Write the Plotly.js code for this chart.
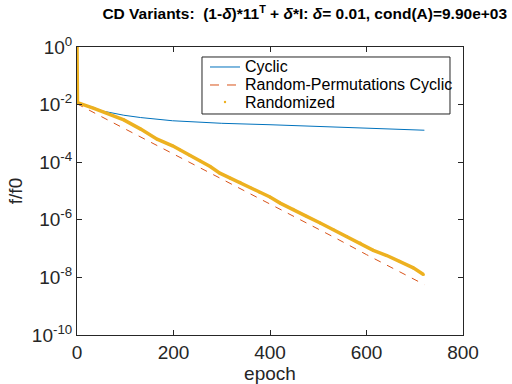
<!DOCTYPE html>
<html>
<head>
<meta charset="utf-8">
<script src="https://cdn.plot.ly/plotly-3.0.1.min.js"></script>
<style>
  html, body { margin: 0; padding: 0; background: #fff; }
  #plotDiv { width: 512px; height: 384px; }
</style>
</head>
<body>
<div id="plotDiv"></div>
<script>
// values
const cyclicEpochs = [0, 1, 35, 52, 97, 132, 198, 300, 400, 500, 600, 720];
const cyclicValues = [1, 1.2e-2, 7.9e-3, 6.03e-3, 4.27e-3, 3.55e-3, 2.75e-3, 2.24e-3, 2.0e-3, 1.74e-3, 1.51e-3, 1.29e-3];

const permEpochs = [0, 1, 60, 120, 180, 240, 300, 360, 420, 480, 540, 600, 660, 720];
const permValues = [1, 1.05e-2, 3.16e-3, 9.55e-4, 2.88e-4, 8.51e-5, 2.57e-5, 7.76e-6, 2.34e-6, 7.08e-7, 2.14e-7, 6.17e-8, 1.86e-8, 5.62e-9];

const randEpochs = [0, 1, 35, 63, 97, 132, 166, 198, 213, 234, 255, 276, 296, 317, 338, 359, 379, 400,
    421, 448, 476, 504, 531, 559, 587, 614, 642, 669, 697, 718];
const randValues = [1, 1.17e-2, 7.41e-3, 5.01e-3, 2.95e-3, 1.41e-3, 6.31e-4, 3.72e-4, 2.69e-4, 1.70e-4,
    1.12e-4, 7.08e-5, 4.17e-5, 2.82e-5, 2.00e-5, 1.32e-5, 8.91e-6, 6.17e-6, 3.80e-6, 2.34e-6, 1.32e-6,
    7.76e-7, 4.57e-7, 2.63e-7, 1.58e-7, 8.71e-8, 5.75e-8, 3.63e-8, 2.14e-8, 1.26e-8];

const xTicks = [0, 200, 400, 600, 800];
const yTicks = [1e-10, 1e-8, 1e-6, 1e-4, 1e-2, 1];
const yTickText = ['10<sup>-10</sup>', '10<sup>-8</sup>', '10<sup>-6</sup>', '10<sup>-4</sup>', '10<sup>-2</sup>', '10<sup>0</sup>'];

const seriesNames = ['Cyclic', 'Random-Permutations Cyclic', 'Randomized'];
const seriesColors = ['#0072BD', '#D95319', '#EDB120'];

const fontFamily = 'Liberation Sans, Arial, Helvetica, sans-serif';
const axisColor = '#262626';

const traceCyclic = {
    x: cyclicEpochs,
    y: cyclicValues,
    mode: 'lines',
    name: seriesNames[0],
    line: {color: seriesColors[0], width: 1}
};
const tracePerm = {
    x: permEpochs,
    y: permValues,
    mode: 'lines',
    name: seriesNames[1],
    line: {color: seriesColors[1], width: 1, dash: '7px,7px'}
};
const traceRand = {
    x: randEpochs,
    y: randValues,
    mode: 'lines+markers',
    name: seriesNames[2],
    line: {color: seriesColors[2], width: 3.5},
    marker: {color: seriesColors[2], size: 3}
};

const axisCommon = {
    showline: true,
    linecolor: axisColor,
    linewidth: 1,
    mirror: 'ticks',
    ticks: 'inside',
    ticklen: 5,
    tickcolor: axisColor,
    showgrid: false,
    zeroline: false,
    tickfont: {family: fontFamily, size: 19, color: axisColor}
};

// legend drawn by hand so that its rows are as tight as in the reference
const legX0 = 0.3238, legX1 = 0.9663, legY0 = 0.7674, legY1 = 0.9653;
const rowY = [0.9306, 0.8681, 0.809];
const sampleX0 = 0.3446, sampleX1 = 0.4223, textX = 0.4301;

const shapes = [
    {type: 'rect', xref: 'paper', yref: 'paper', x0: legX0, x1: legX1, y0: legY0, y1: legY1,
        line: {color: axisColor, width: 1}, fillcolor: '#fff', layer: 'above'},
    {type: 'line', xref: 'paper', yref: 'paper', x0: sampleX0, x1: sampleX1, y0: rowY[0], y1: rowY[0],
        line: {color: seriesColors[0], width: 1}, layer: 'above'},
    {type: 'line', xref: 'paper', yref: 'paper', x0: sampleX0, x1: sampleX1, y0: rowY[1], y1: rowY[1],
        line: {color: seriesColors[1], width: 1, dash: '9px,8px'}, layer: 'above'},
    {type: 'circle', xref: 'paper', yref: 'paper', xsizemode: 'pixel', ysizemode: 'pixel',
        xanchor: (sampleX0 + sampleX1) / 2, yanchor: rowY[2], x0: -1.2, x1: 1.2, y0: -1.2, y1: 1.2,
        line: {width: 0}, fillcolor: seriesColors[2], layer: 'above'}
];

const annotations = seriesNames.map((name, i) => ({
    xref: 'paper', yref: 'paper', x: textX, y: rowY[i],
    xanchor: 'left', yanchor: 'middle', showarrow: false,
    text: name,
    font: {family: fontFamily, size: 16, color: '#000'}
}));

const layout = {
    width: 512,
    height: 384,
    margin: {l: 77, r: 49, t: 47, b: 49},
    paper_bgcolor: '#fff',
    plot_bgcolor: '#fff',
    font: {family: fontFamily, color: '#000'},
    showlegend: false,
    title: {
        text: '<b>CD Variants:  (1-<i>δ</i>)*11<sup>T</sup> + <i>δ</i>*I: <i>δ</i>= 0.01, cond(A)=9.90e+03</b>',
        font: {family: fontFamily, size: 15.5, color: '#000'},
        x: 0.2, xanchor: 'left', y: 0.964, yanchor: 'middle'
    },
    xaxis: Object.assign({}, axisCommon, {
        range: [0, 800],
        tickvals: xTicks,
        ticktext: xTicks.map(String),
        title: {text: 'epoch', font: {family: fontFamily, size: 19, color: axisColor}, standoff: 2}
    }),
    yaxis: Object.assign({}, axisCommon, {
        type: 'log',
        range: [-10, 0],
        tickvals: yTicks,
        ticktext: yTickText,
        title: {text: 'f/f0', font: {family: fontFamily, size: 19, color: axisColor}, standoff: 4}
    }),
    shapes: shapes,
    annotations: annotations
};

const data = [traceCyclic, tracePerm, traceRand];

Plotly.newPlot('plotDiv', data, layout, {staticPlot: true}).catch(error => {
    console.error('Error in plot:', error);
});
</script>
</body>
</html>
